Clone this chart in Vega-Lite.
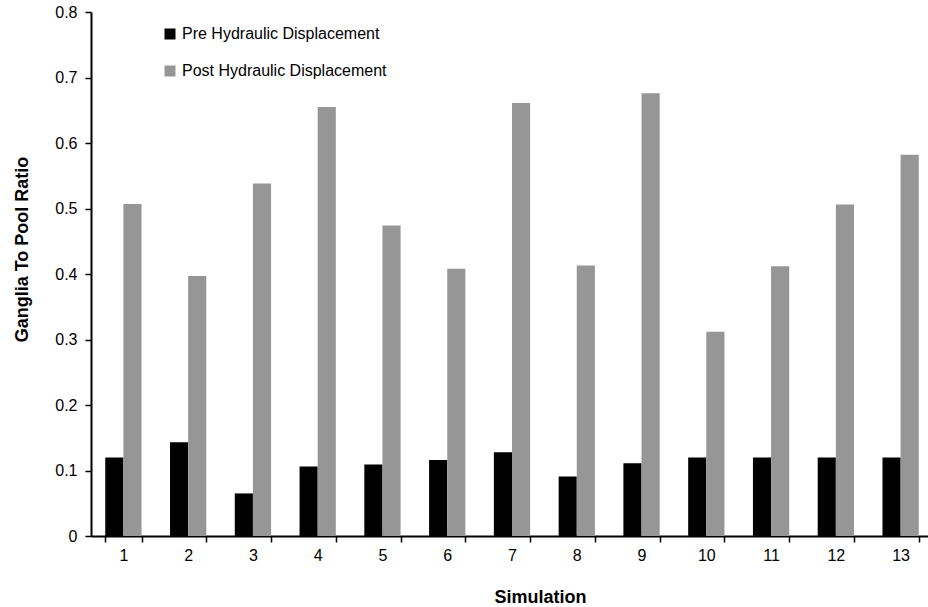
{
  "$schema": "https://vega.github.io/schema/vega-lite/v6.json",
  "autosize": {"type": "none"},
  "padding": {"left": 91, "top": 12, "right": 0, "bottom": 71},
  "width": 837,
  "height": 524,
  "background": "white",
  "config": {
    "font": "Liberation Sans",
    "view": {"stroke": null},
    "axis": {"grid": false, "domainColor": "black", "tickColor": "black", "labelColor": "black", "titleColor": "black"}
  },
  "data": {
    "values": [
      {"sim": "1", "series": "Pre Hydraulic Displacement", "value": 0.120},
      {"sim": "1", "series": "Post Hydraulic Displacement", "value": 0.507},
      {"sim": "2", "series": "Pre Hydraulic Displacement", "value": 0.143},
      {"sim": "2", "series": "Post Hydraulic Displacement", "value": 0.397},
      {"sim": "3", "series": "Pre Hydraulic Displacement", "value": 0.065},
      {"sim": "3", "series": "Post Hydraulic Displacement", "value": 0.538},
      {"sim": "4", "series": "Pre Hydraulic Displacement", "value": 0.106},
      {"sim": "4", "series": "Post Hydraulic Displacement", "value": 0.655},
      {"sim": "5", "series": "Pre Hydraulic Displacement", "value": 0.109},
      {"sim": "5", "series": "Post Hydraulic Displacement", "value": 0.474},
      {"sim": "6", "series": "Pre Hydraulic Displacement", "value": 0.116},
      {"sim": "6", "series": "Post Hydraulic Displacement", "value": 0.408},
      {"sim": "7", "series": "Pre Hydraulic Displacement", "value": 0.128},
      {"sim": "7", "series": "Post Hydraulic Displacement", "value": 0.661},
      {"sim": "8", "series": "Pre Hydraulic Displacement", "value": 0.091},
      {"sim": "8", "series": "Post Hydraulic Displacement", "value": 0.413},
      {"sim": "9", "series": "Pre Hydraulic Displacement", "value": 0.111},
      {"sim": "9", "series": "Post Hydraulic Displacement", "value": 0.676},
      {"sim": "10", "series": "Pre Hydraulic Displacement", "value": 0.120},
      {"sim": "10", "series": "Post Hydraulic Displacement", "value": 0.312},
      {"sim": "11", "series": "Pre Hydraulic Displacement", "value": 0.120},
      {"sim": "11", "series": "Post Hydraulic Displacement", "value": 0.412},
      {"sim": "12", "series": "Pre Hydraulic Displacement", "value": 0.120},
      {"sim": "12", "series": "Post Hydraulic Displacement", "value": 0.506},
      {"sim": "13", "series": "Pre Hydraulic Displacement", "value": 0.120},
      {"sim": "13", "series": "Post Hydraulic Displacement", "value": 0.582}
    ]
  },
  "mark": {"type": "bar"},
  "encoding": {
    "x": {
      "field": "sim",
      "type": "nominal",
      "sort": ["1","2","3","4","5","6","7","8","9","10","11","12","13"],
      "scale": {"range": [0, 842], "paddingInner": 0.44, "paddingOuter": 0.22},
      "axis": {
        "title": "Simulation",
        "labelAngle": 0,
        "labelFontSize": 16,
        "labelPadding": 5,
        "tickBand": "extent",
        "tickSize": 6,
        "tickWidth": 1.5,
        "domainWidth": 2,
        "titleFontSize": 18,
        "titleFontWeight": "bold",
        "titleX": 449,
        "titleY": 66,
        "titleAlign": "center",
        "titleAnchor": null,
        "titleBaseline": "alphabetic"
      }
    },
    "xOffset": {
      "field": "series",
      "type": "nominal",
      "sort": ["Pre Hydraulic Displacement", "Post Hydraulic Displacement"],
      "scale": {"paddingInner": 0, "paddingOuter": 0}
    },
    "y": {
      "field": "value",
      "type": "quantitative",
      "scale": {"domain": [0, 0.8], "nice": false},
      "axis": {
        "title": "Ganglia To Pool Ratio",
        "values": [0, 0.1, 0.2, 0.3, 0.4, 0.5, 0.6, 0.7, 0.8],
        "format": "~g",
        "labelFontSize": 16,
        "labelPadding": 8,
        "tickSize": 6,
        "tickWidth": 1.5,
        "domainWidth": 2,
        "titleFontSize": 18,
        "titleFontWeight": "bold",
        "titleX": -69,
        "titleY": 237,
        "titleAlign": "center",
        "titleAnchor": null,
        "titleBaseline": "middle",
        "titleAngle": -90
      }
    },
    "color": {
      "field": "series",
      "type": "nominal",
      "scale": {
        "domain": ["Pre Hydraulic Displacement", "Post Hydraulic Displacement"],
        "range": ["#000000", "#969696"]
      },
      "legend": {
        "title": null,
        "orient": "none",
        "legendX": 71,
        "legendY": 14,
        "padding": 0,
        "symbolType": "square",
        "symbolSize": 121,
        "symbolStrokeWidth": 0,
        "labelFontSize": 16,
        "labelOffset": 4,
        "rowPadding": 21,
        "labelColor": "black",
        "labelLimit": 400
      }
    }
  }
}
